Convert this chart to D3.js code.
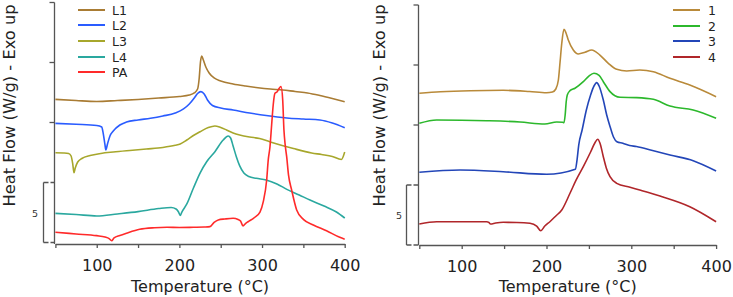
<!DOCTYPE html>
<html><head><meta charset="utf-8">
<script src="https://cdn.jsdelivr.net/npm/d3@7"></script>
<style>
body{margin:0;background:#fff;}
svg{display:block;font-family:"DejaVu Sans",Verdana,sans-serif;}
</style></head>
<body>
<svg id="c" width="733" height="297"></svg>
<script>
// ---------- data: [temperature °C, heat flow W/g (offset)] ----------
const xTicks = [50,100,150,200,250,300,350,400];
const xTickLabels = [100,200,300,400];
const yTicks = [10,15,20];
const scaleBarValue = 5;

const leftNames = ["L1","L2","L3","L4","PA"];
const leftColors = ["#a97c34","#2a5cff","#a7a72c","#2aa89f","#ff2a2a"];
const rightNames = ["1","2","3","4"];
const rightColors = ["#b98a3a","#2cb82c","#2346b8","#b0262a"];

const L1 = [[50,11.93],[75,11.83],[100,11.75],[125,11.83],[150,11.92],[175,12.04],[200,12.17],[212,12.29],[218,12.46],[222,12.79],[224,13.71],[225.5,15.04],[227,15.54],[229,15.21],[232,14.63],[236,14.13],[242,13.71],[250,13.46],[265,13.21],[280,13.04],[295,12.9],[310,12.79],[325,12.71],[340,12.58],[355,12.46],[370,12.25],[385,12.0],[400,11.73]];
const L2 = [[50,9.93],[75,9.85],[100,9.75],[106,9.63],[108,9.04],[110,8.13],[111,7.71],[113,8.21],[116,8.88],[120,9.29],[128,9.79],[136,10.04],[150,10.21],[165,10.35],[180,10.54],[195,10.79],[205,11.13],[212,11.54],[218,12.04],[222,12.42],[226,12.57],[230,12.38],[234,11.88],[240,11.42],[250,11.21],[265,11.04],[285,10.79],[305,10.58],[330,10.38],[350,10.29],[370,10.21],[385,9.96],[400,9.57]];
const L3 = [[50,7.48],[60,7.46],[66,7.42],[69,7.21],[71,6.54],[72.5,5.82],[74,6.21],[77,6.71],[82,7.0],[92,7.25],[105,7.42],[120,7.54],[140,7.67],[160,7.79],[180,7.92],[195,8.1],[201,8.21],[209,8.54],[218,8.96],[225,9.23],[235,9.58],[243,9.71],[250,9.58],[257,9.38],[265,9.13],[273,8.96],[285,8.79],[297,8.67],[310,8.38],[338,7.83],[360,7.46],[372,7.33],[385,7.17],[396,6.92],[400,7.54]];
const L4 = [[50,2.43],[75,2.33],[100,2.21],[125,2.38],[150,2.57],[175,2.83],[190,2.92],[196,2.79],[199,2.54],[201,2.25],[203,2.54],[209,3.21],[217,4.54],[225,5.79],[233,6.73],[243,7.57],[253,8.54],[259,8.88],[262,8.71],[265,8.04],[269,7.13],[273,6.38],[278,5.79],[284,5.5],[293,5.35],[305,5.21],[318,4.88],[330,4.43],[345,3.96],[358,3.54],[375,3.04],[390,2.54],[400,2.04]];
const PA = [[50,0.85],[75,0.71],[100,0.57],[110,0.46],[115,0.33],[118,0.15],[121,0.38],[128,0.58],[136,0.77],[152,1.1],[170,1.23],[185,1.27],[200,1.25],[217,1.27],[230,1.29],[237,1.32],[242,1.67],[247,1.88],[255,1.96],[265,2.02],[271,1.92],[274,1.79],[277,1.38],[280,1.58],[283,1.73],[290,2.04],[297.5,2.54],[301.5,3.4],[305.6,5.21],[307.5,6.88],[309.6,7.98],[311.6,9.79],[313.5,11.46],[315.6,12.43],[318,12.54],[321,12.88],[323,13.0],[325,11.88],[326.5,9.38],[328,8.13],[329.8,7.15],[332,5.63],[335.8,4.38],[341.9,2.71],[350,1.93],[362,1.46],[378,0.98],[394,0.43],[400,0.27]];

const S1 = [[50,12.64],[75,12.77],[110,12.86],[149,12.89],[180,12.79],[200,12.69],[207,12.75],[211,13.0],[214,13.75],[216,15.25],[218,16.81],[220.6,17.98],[223,17.67],[225.7,17.08],[231.6,16.25],[237.5,15.92],[245.4,16.06],[253.3,16.25],[263,15.83],[272.9,15.14],[282.8,14.64],[294.6,14.5],[310,14.58],[326,14.44],[345.6,13.89],[369,13.33],[400,12.36]];
const S2 = [[50,10.14],[70.5,10.42],[129.5,10.36],[168.8,10.25],[198,10.08],[212,10.25],[219,10.23],[220.6,10.19],[222,10.83],[223.2,11.92],[224.5,12.5],[227.7,12.86],[233.6,13.06],[243.4,13.61],[250,14.08],[256,14.31],[262,14.13],[267,13.61],[274.9,12.78],[286.7,12.31],[306.4,12.28],[326,12.14],[345.6,11.58],[373,11.25],[400,10.56]];
const S3 = [[50,6.06],[98,6.25],[149,6.11],[200.2,5.89],[234,6.31],[236,7.08],[238,8.33],[242,9.58],[247,11.25],[252,12.5],[256,13.25],[259.2,13.53],[262,13.25],[267,12.08],[271,10.83],[275,9.86],[279,9.0],[283,8.61],[290,8.48],[298,8.29],[306,8.21],[325,7.88],[345.6,7.5],[373,7.03],[400,6.17]];
const S4 = [[50,1.75],[70.5,1.94],[129.5,1.94],[132,1.88],[134,1.75],[140,1.83],[149,1.89],[165,1.88],[180.5,1.81],[188.4,1.58],[193.2,1.19],[198,1.58],[204,1.94],[211,2.42],[218,2.92],[227.7,4.31],[235,5.42],[243.4,6.53],[252,7.75],[257,8.5],[260.4,8.81],[263,8.5],[267,7.36],[270.5,6.42],[274.9,5.69],[282.8,5.14],[298.5,4.81],[310,4.58],[333.8,4.08],[369,3.19],[400,1.94]];

const leftSeries = [L1,L2,L3,L4,PA];
const rightSeries = [S1,S2,S3,S4];

// ---------- drawing ----------
const svg = d3.select("#c");
const axisColor = "#555";

function panel(cfg){
  const g = svg.append("g");
  const x = d3.scaleLinear().domain([50,400]).range(cfg.xr);
  const y = d3.scaleLinear().domain([0,20]).range(cfg.yr);
  const axY = cfg.axisY;

  // y axis line + ticks
  g.append("line").attr("x1",cfg.yAxisX).attr("x2",cfg.yAxisX)
    .attr("y1",y(20)).attr("y2",axY)
    .attr("stroke",axisColor).attr("stroke-width",1.3);
  g.selectAll(".yt").data(yTicks).join("line")
    .attr("x1",cfg.yAxisX-5).attr("x2",cfg.yAxisX)
    .attr("y1",d=>y(d)).attr("y2",d=>y(d))
    .attr("stroke",axisColor).attr("stroke-width",1.3);

  // x axis
  const xa = d3.axisBottom(x).tickValues(xTicks).tickSize(4).tickSizeOuter(0)
    .tickFormat(d=>xTickLabels.includes(d)?d:"");
  const gx = g.append("g").attr("transform",`translate(0,${axY})`).call(xa);
  gx.select(".domain").attr("stroke",axisColor).attr("stroke-width",1.3);
  gx.selectAll(".tick line").attr("stroke",axisColor).attr("stroke-width",1.3);
  gx.selectAll(".tick text").attr("fill","#222").attr("font-size",16)
    .attr("font-family","DejaVu Sans").attr("y",null).attr("dy",null)
    .attr("transform","translate(0,26.5)");

  // scale bar
  const bx = cfg.barX;
  g.append("line").attr("x1",bx).attr("x2",bx).attr("y1",y(scaleBarValue)).attr("y2",y(0))
    .attr("stroke",axisColor).attr("stroke-width",1.3);
  [0,scaleBarValue].forEach(v=>{
    g.append("line").attr("x1",bx).attr("x2",cfg.yAxisX).attr("y1",y(v)).attr("y2",y(v))
      .attr("stroke",axisColor).attr("stroke-width",1.3).attr("stroke-dasharray","5,2");
  });
  g.append("text").attr("x",cfg.barLabelX).attr("y",y(scaleBarValue/2)+4)
    .attr("text-anchor","middle").attr("font-size",9.5).attr("fill","#333").text(scaleBarValue);

  // axis titles
  g.append("text").attr("x",(cfg.xr[0]+cfg.xr[1])/2).attr("y",292)
    .attr("text-anchor","middle").attr("font-size",16).attr("fill","#222")
    .text("Temperature (°C)");
  g.append("text").attr("transform",`translate(${cfg.yLabelX},105.5) rotate(-90)`)
    .attr("text-anchor","middle").attr("font-size",16.3).attr("fill","#222")
    .text("Heat Flow (W/g) - Exo up");

  // curves
  const line = d3.line().x(d=>x(d[0])).y(d=>y(d[1])).curve(d3.curveMonotoneX);
  cfg.series.forEach((s,i)=>{
    g.append("path").datum(s).attr("d",line).attr("fill","none")
      .attr("stroke",cfg.colors[i]).attr("stroke-width",1.6).attr("stroke-linejoin","round");
  });

  // legend
  cfg.names.forEach((n,i)=>{
    const ly = cfg.legY[i];
    g.append("line").attr("x1",cfg.legX[0]).attr("x2",cfg.legX[1]).attr("y1",ly).attr("y2",ly)
      .attr("stroke",cfg.colors[i]).attr("stroke-width",2);
    g.append("text").attr("x",cfg.legX[2]).attr("y",ly+4.5)
      .attr("font-size",12.5).attr("fill","#222").text(n);
  });
}

panel({xr:[55.4,344.7], yr:[242.5,2.5], axisY:244, yAxisX:54.5, barX:43.5, barLabelX:35,
  yLabelX:15, series:leftSeries, colors:leftColors, names:leftNames,
  legX:[78,105,112], legY:[10,25,41,57,72]});
panel({xr:[419.3,716.1], yr:[245,5], axisY:245, yAxisX:418.5, barX:406.5, barLabelX:399,
  yLabelX:385, series:rightSeries, colors:rightColors, names:rightNames,
  legX:[673,700,708], legY:[10,26,41,57]});
</script>
</body></html>
